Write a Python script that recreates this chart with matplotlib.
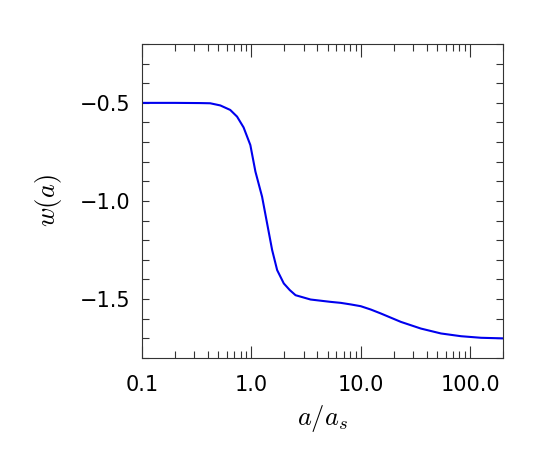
import numpy as np
import matplotlib.pyplot as plt
from matplotlib.ticker import FixedLocator, LogLocator, NullFormatter

plt.rcParams["mathtext.fontset"] = "cm"

# --- data ---
a_over_as = [0.1, 0.2, 0.34, 0.42, 0.52, 0.641, 0.740, 0.849, 0.979, 1.089,
             1.253, 1.393, 1.549, 1.721, 1.979, 2.246, 2.535, 3.478, 5.31,
             6.56, 8.10, 10.0, 12.36, 15.25, 23.3, 35.5, 54.2, 82.7, 126.0,
             200.0]
w_of_a = [-0.500, -0.500, -0.501, -0.502, -0.513, -0.536, -0.570, -0.625,
          -0.715, -0.850, -0.978, -1.114, -1.250, -1.352, -1.420, -1.454,
          -1.480, -1.502, -1.514, -1.519, -1.527, -1.536, -1.553, -1.573,
          -1.616, -1.650, -1.675, -1.689, -1.697, -1.700]
x_ticks = [0.1, 1.0, 10.0, 100.0]
x_labels = ["0.1", "1.0", "10.0", "100.0"]
y_ticks = [-1.5, -1.0, -0.5]
y_labels = ["\u22121.5", "\u22121.0", "\u22120.5"]

fig = plt.figure(figsize=(5.45, 4.49), dpi=100)
ax = fig.add_axes([142/545, 1 - 358/449, (503-142)/545, (358-44)/449])

ax.plot(a_over_as, w_of_a, color="#0000ee", lw=1.5)

ax.set_xscale("log")
ax.set_xlim(0.1, 200)
ax.set_ylim(-1.8, -0.2)

ax.xaxis.set_major_locator(FixedLocator(x_ticks))
ax.set_xticklabels(x_labels)
ax.xaxis.set_minor_locator(LogLocator(base=10, subs=np.arange(2, 10)))
ax.xaxis.set_minor_formatter(NullFormatter())
ax.yaxis.set_major_locator(FixedLocator(y_ticks))
ax.set_yticklabels(y_labels)
ax.yaxis.set_minor_locator(FixedLocator(np.arange(-1.8, -0.19, 0.1)))

ax.tick_params(axis="both", which="both", direction="in", top=True, right=True,
               color="#333333", labelsize=15, width=0.8)
ax.tick_params(axis="x", which="major", length=9, pad=12)
ax.tick_params(axis="x", which="minor", length=5)
ax.tick_params(axis="y", which="both", length=5, pad=8)
for s in ax.spines.values():
    s.set_color("#333333")
    s.set_linewidth(0.8)

ax.set_xlabel(r"$a/a_s$", fontsize=19, labelpad=6)
ax.set_ylabel(r"$w(a)$", fontsize=19, labelpad=12)

fig.savefig("out.png", dpi=100)
